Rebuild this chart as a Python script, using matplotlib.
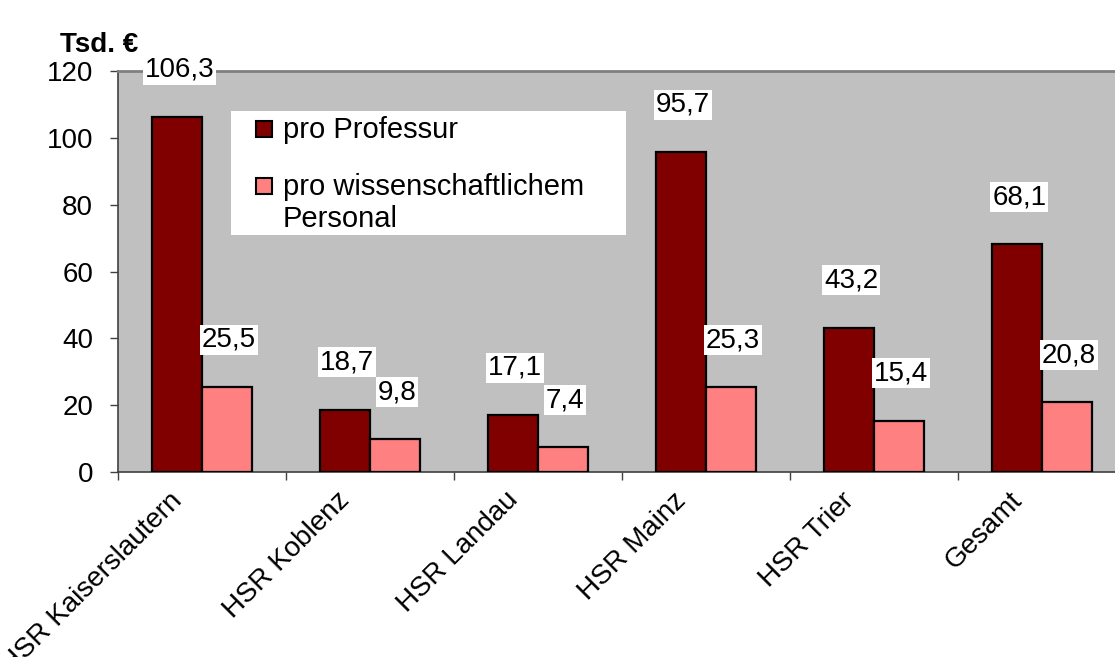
import matplotlib
matplotlib.use("Agg")
import matplotlib.pyplot as plt
import matplotlib.transforms as mtransforms
import numpy as np
from matplotlib.patches import Rectangle

plt.rcParams['font.family'] = ['Liberation Sans', 'DejaVu Sans']

categories = ["HSR Kaiserslautern", "HSR Koblenz", "HSR Landau", "HSR Mainz", "HSR Trier", "Gesamt"]
pro_professur = [106.3, 18.7, 17.1, 95.7, 43.2, 68.1]
pro_personal = [25.5, 9.8, 7.4, 25.3, 15.4, 20.8]
series_names = ["pro Professur", "pro wissenschaftlichem\nPersonal"]
unit_label = "Tsd. €"
yticks = [0, 20, 40, 60, 80, 100, 120]

W, H = 1115, 657
fig = plt.figure(figsize=(W / 100, H / 100), dpi=100)

def px(x, y):
    return x / W, 1 - y / H

ax = fig.add_axes([118 / W, (H - 472) / H, (1126 - 118) / W, (472 - 71) / H])
ax.set_facecolor('#C0C0C0')

dark = '#800000'
light = '#FF8080'
fs = 20

x = np.arange(len(categories))
bw = 0.295
b1 = ax.bar(x - bw / 2, pro_professur, bw, color=dark, edgecolor='black', linewidth=1.6, zorder=3)
b2 = ax.bar(x + bw / 2, pro_personal, bw, color=light, edgecolor='black', linewidth=1.6, zorder=3)

def fmt(v):
    return f"{v:.1f}".replace('.', ',')

for bars, vals in ((b1, pro_professur), (b2, pro_personal)):
    for r, v in zip(bars, vals):
        ax.annotate(fmt(v), (r.get_x() + r.get_width() / 2, v), xytext=(1.5, 34),
                    textcoords='offset points', ha='center', va='center', fontsize=fs,
                    bbox=dict(boxstyle='square,pad=0.07', fc='white', ec='none'), zorder=5,
                    annotation_clip=False)

ax.set_xlim(-0.5, len(categories) - 0.5)
ax.set_ylim(0, 120)
ax.set_yticks(yticks)
ax.set_yticklabels([str(t) for t in yticks], fontsize=fs)
ax.tick_params(axis='y', direction='out', length=6, width=1, color='#404040', pad=12)

ax.set_xticks(x)
ax.set_xticklabels(categories, fontsize=fs, rotation=45, ha='right', rotation_mode='default')
ax.tick_params(axis='x', which='major', length=0, pad=11)
shift = mtransforms.ScaledTranslation(-0.15, 0, fig.dpi_scale_trans)
for lab in ax.get_xticklabels():
    lab.set_transform(lab.get_transform() + shift)
ax.set_xticks(np.arange(-0.5, len(categories) + 0.5, 1), minor=True)
ax.tick_params(axis='x', which='minor', direction='out', length=6, width=1, color='#404040')

for s in ('left', 'bottom'):
    ax.spines[s].set_color('#404040')
    ax.spines[s].set_linewidth(1.2)
ax.spines['top'].set_color('#808080')
ax.spines['top'].set_linewidth(2)
ax.spines['right'].set_visible(False)

# unit label
fig.text(*px(60, 45), unit_label, fontsize=20, fontweight='bold', ha='left', va='center')

# legend (manual, Excel-like)
lx0, ly0 = px(231, 235)
lx1, ly1 = px(626, 111)
fig.patches.append(Rectangle((lx0, ly0), lx1 - lx0, ly1 - ly0, transform=fig.transFigure,
                             facecolor='white', edgecolor='none', zorder=4))
lfs = 21
for (sq_top, col, name, base) in ((121, dark, series_names[0], 138), (178, light, series_names[1], 195)):
    sx, sy = px(256, sq_top + 16)
    fig.patches.append(Rectangle((sx, sy), 16 / W, 16 / H, transform=fig.transFigure,
                                 facecolor=col, edgecolor='black', linewidth=1.5, zorder=5))
    for i, line in enumerate(name.split('\n')):
        tx, ty = px(283, base + 32 * i)
        fig.text(tx, ty, line, fontsize=lfs, ha='left', va='baseline', zorder=6)

fig.savefig('out.png', dpi=100)
